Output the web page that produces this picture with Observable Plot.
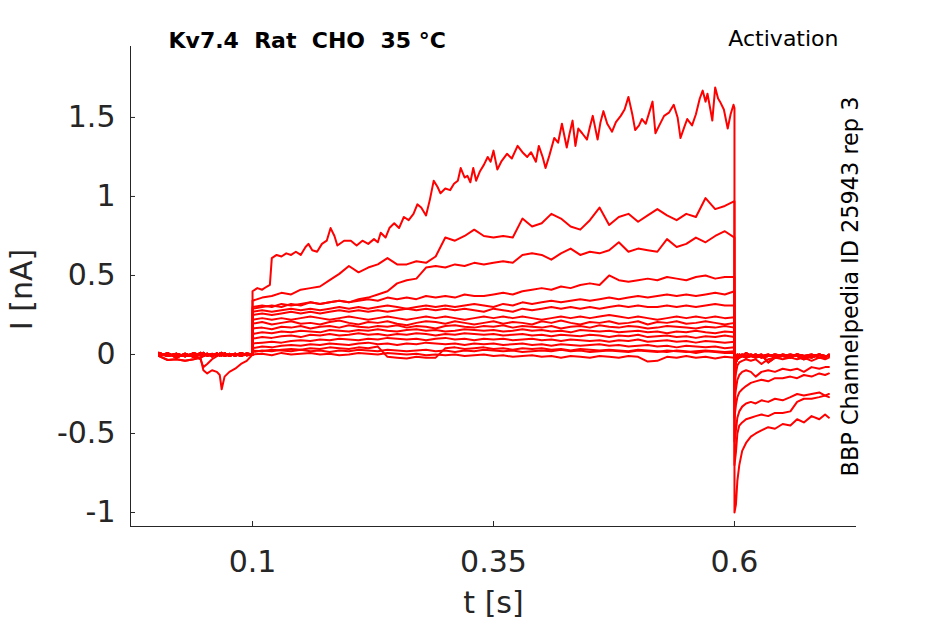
<!DOCTYPE html>
<html><head><meta charset="utf-8">
<script src="https://cdn.jsdelivr.net/npm/d3@7"></script>
<script src="https://cdn.jsdelivr.net/npm/@observablehq/plot@0.6"></script>
<style>body{margin:0;background:#fff}</style>
</head><body><div id="chart"></div>
<script>
const xTicks = [0.1, 0.35, 0.6];
const xTickLabels = ["0.1", "0.35", "0.6"];
const yTicks = [-1, -0.5, 0, 0.5, 1, 1.5];
const yTickLabels = ["-1", "-0.5", "0", "0.5", "1", "1.5"];
const xDomain = [-0.0266, 0.7266];
const yDomain = [-1.0886, 1.949];

// time grids (s)
const preT = [0.003,0.012,0.021,0.030,0.039,0.046,0.049,0.053,0.058,0.063,0.066,0.068,0.071,0.076,0.082,0.088,0.094,0.1];
const stepT = [0.10,0.11,0.12,0.13,0.14,0.15,0.16,0.17,0.18,0.19,
  0.20,0.21,0.22,0.23,0.24,0.25,0.26,0.27,0.28,0.29,
  0.30,0.31,0.32,0.33,0.34,0.35,0.36,0.37,0.38,0.39,
  0.40,0.41,0.42,0.43,0.44,0.45,0.46,0.47,0.48,0.49,
  0.50,0.51,0.52,0.53,0.54,0.55,0.56,0.57,0.58,0.59,0.60];
const tailT = [0.6,0.6015,0.603,0.605,0.608,0.612,0.617,0.622,0.628,0.635,0.642,0.65,0.658,0.665,0.672,0.68,0.688,0.694,0.698];

// pre-step baselines (nA)
const preA = [0.01,-0.01,0.005,-0.012,0.008,-0.005,0.01,-0.008,0.004,-0.01,0.006,-0.004,0.008,-0.01,0.005,-0.008,0.006,0.0];
const preB = [-0.01,0.008,-0.02,0.005,-0.015,0.01,-0.01,0.005,-0.012,0.008,-0.006,0.01,-0.01,0.004,-0.008,0.01,-0.005,0.0];
const preC = [-0.01,-0.035,-0.03,-0.04,-0.03,-0.02,-0.01,0.0,-0.01,0.005,-0.008,0.0,0.005,-0.005,0.0,0.004,-0.003,0.0];
const preDip = [0.0,-0.01,0.005,-0.008,-0.01,-0.02,-0.10,-0.12,-0.10,-0.11,-0.13,-0.22,-0.14,-0.11,-0.09,-0.06,-0.04,0.0];
const preDip2 = [0.0,0.005,-0.01,0.0,-0.01,-0.03,-0.08,-0.06,-0.03,-0.01,0.0,-0.01,0.005,-0.005,0.0,-0.01,0.0,0.0];

// largest trace, own time base
const mainT = [0.100,0.105,0.110,0.115,0.118,0.120,0.125,0.130,0.135,0.140,
  0.145,0.150,0.155,0.158,0.162,0.167,0.172,0.177,0.181,0.185,
  0.188,0.195,0.202,0.208,0.214,0.220,0.226,0.230,0.233,0.238,
  0.242,0.247,0.252,0.257,0.262,0.267,0.271,0.275,0.280,0.284,
  0.288,0.292,0.295,0.300,0.305,0.309,0.313,0.316,0.320,0.323,
  0.326,0.329,0.332,0.336,0.340,0.344,0.347,0.350,0.354,0.358,
  0.364,0.369,0.375,0.380,0.385,0.389,0.394,0.397,0.401,0.404,
  0.408,0.413,0.417,0.421,0.426,0.429,0.432,0.435,0.438,0.442,
  0.447,0.450,0.453,0.458,0.461,0.464,0.468,0.473,0.477,0.482,
  0.486,0.490,0.494,0.497,0.501,0.504,0.508,0.512,0.515,0.518,
  0.522,0.527,0.532,0.537,0.541,0.544,0.548,0.551,0.556,0.560,
  0.564,0.567,0.570,0.572,0.575,0.577,0.580,0.583,0.585,0.589,
  0.593,0.596,0.599,0.600];
const mainI = [0.40,0.42,0.41,0.43,0.44,0.61,0.63,0.62,0.64,0.63,
  0.65,0.63,0.68,0.70,0.66,0.65,0.70,0.72,0.80,0.75,
  0.69,0.72,0.72,0.69,0.72,0.70,0.73,0.71,0.77,0.74,
  0.80,0.83,0.80,0.87,0.85,0.89,0.95,0.93,0.88,0.98,
  1.10,1.06,1.02,1.05,1.04,1.08,1.10,1.18,1.12,1.13,
  1.09,1.18,1.10,1.16,1.20,1.25,1.22,1.29,1.17,1.22,
  1.27,1.24,1.32,1.28,1.25,1.28,1.22,1.32,1.25,1.18,
  1.26,1.37,1.34,1.46,1.31,1.40,1.48,1.32,1.43,1.40,
  1.36,1.44,1.51,1.36,1.47,1.54,1.46,1.41,1.47,1.51,
  1.55,1.63,1.52,1.42,1.45,1.49,1.46,1.54,1.60,1.40,
  1.45,1.51,1.53,1.58,1.50,1.37,1.44,1.49,1.45,1.52,
  1.62,1.67,1.60,1.65,1.55,1.48,1.69,1.62,1.60,1.55,
  1.43,1.52,1.58,1.56];

// step currents on stepT (nA)
const i2 = [0.34,0.36,0.37,0.39,0.38,0.41,0.42,0.43,0.47,0.51,
  0.56,0.52,0.55,0.57,0.61,0.57,0.57,0.59,0.58,0.62,
  0.74,0.72,0.75,0.79,0.75,0.74,0.75,0.74,0.86,0.81,
  0.83,0.89,0.86,0.81,0.79,0.85,0.93,0.82,0.87,0.89,
  0.84,0.88,0.92,0.88,0.85,0.89,0.87,0.99,0.92,0.94,0.97];
const i3 = [0.30,0.31,0.30,0.32,0.31,0.32,0.33,0.32,0.33,0.34,
  0.33,0.35,0.36,0.38,0.40,0.45,0.47,0.48,0.55,0.56,
  0.55,0.57,0.56,0.58,0.57,0.58,0.59,0.58,0.63,0.64,
  0.63,0.60,0.64,0.67,0.63,0.65,0.64,0.66,0.71,0.65,
  0.67,0.66,0.65,0.73,0.68,0.70,0.74,0.71,0.75,0.78,0.74];
const i4 = [0.29,0.30,0.31,0.30,0.32,0.31,0.33,0.32,0.33,0.34,
  0.33,0.34,0.35,0.34,0.36,0.35,0.36,0.35,0.37,0.36,
  0.37,0.36,0.38,0.37,0.37,0.38,0.39,0.38,0.40,0.41,
  0.42,0.41,0.43,0.42,0.44,0.45,0.44,0.50,0.47,0.46,
  0.47,0.48,0.47,0.49,0.48,0.47,0.49,0.50,0.48,0.49,0.49];
const i5 = [0.27,0.28,0.27,0.28,0.29,0.28,0.29,0.28,0.29,0.30,
  0.29,0.30,0.29,0.30,0.31,0.30,0.29,0.30,0.31,0.30,
  0.31,0.30,0.31,0.32,0.31,0.30,0.32,0.31,0.33,0.32,
  0.33,0.34,0.33,0.34,0.35,0.34,0.35,0.36,0.35,0.36,
  0.37,0.36,0.37,0.38,0.37,0.38,0.37,0.38,0.39,0.38,0.40];
const i6 = [0.25,0.26,0.25,0.26,0.27,0.26,0.27,0.26,0.27,0.28,
  0.27,0.28,0.27,0.28,0.27,0.28,0.29,0.28,0.29,0.28,
  0.29,0.28,0.29,0.28,0.27,0.29,0.28,0.27,0.29,0.28,
  0.29,0.30,0.29,0.30,0.29,0.30,0.29,0.30,0.31,0.30,
  0.31,0.30,0.30,0.31,0.30,0.31,0.30,0.31,0.32,0.31,0.31];
const i7 = [0.22,0.23,0.22,0.23,0.22,0.23,0.24,0.23,0.22,0.23,
  0.24,0.23,0.22,0.23,0.24,0.23,0.22,0.23,0.24,0.23,
  0.24,0.23,0.22,0.23,0.24,0.23,0.24,0.23,0.24,0.23,
  0.22,0.23,0.24,0.23,0.24,0.23,0.24,0.25,0.24,0.23,
  0.24,0.23,0.22,0.23,0.24,0.23,0.24,0.23,0.24,0.23,0.235];
const i8 = [0.195,0.205,0.19,0.20,0.21,0.195,0.20,0.19,0.205,0.215,
  0.20,0.19,0.205,0.20,0.21,0.195,0.185,0.20,0.21,0.205,
  0.195,0.21,0.20,0.19,0.20,0.21,0.195,0.205,0.20,0.19,
  0.21,0.20,0.215,0.20,0.19,0.205,0.20,0.21,0.195,0.20,
  0.21,0.19,0.205,0.20,0.21,0.195,0.20,0.21,0.20,0.19,0.20];
const i9 = [0.165,0.17,0.16,0.175,0.17,0.18,0.165,0.175,0.18,0.17,
  0.185,0.175,0.17,0.18,0.175,0.185,0.17,0.18,0.175,0.165,
  0.18,0.185,0.175,0.17,0.18,0.175,0.185,0.17,0.18,0.175,
  0.17,0.18,0.165,0.175,0.18,0.17,0.185,0.175,0.17,0.18,
  0.175,0.165,0.17,0.18,0.175,0.17,0.165,0.175,0.17,0.18,0.17];
const i10 = [0.13,0.14,0.135,0.145,0.14,0.15,0.145,0.14,0.155,0.15,
  0.145,0.155,0.15,0.16,0.15,0.145,0.155,0.16,0.15,0.155,
  0.145,0.15,0.16,0.155,0.15,0.155,0.145,0.15,0.16,0.15,
  0.155,0.145,0.15,0.14,0.155,0.15,0.145,0.15,0.14,0.145,
  0.15,0.14,0.145,0.135,0.145,0.14,0.15,0.14,0.135,0.145,0.14];
const i11 = [0.10,0.11,0.105,0.115,0.12,0.11,0.125,0.12,0.13,0.12,
  0.125,0.135,0.125,0.13,0.12,0.13,0.125,0.135,0.13,0.12,
  0.13,0.125,0.135,0.13,0.125,0.13,0.12,0.125,0.13,0.12,
  0.125,0.115,0.125,0.12,0.115,0.125,0.12,0.11,0.12,0.115,
  0.125,0.11,0.115,0.12,0.11,0.115,0.105,0.115,0.11,0.12,0.11];
const i12 = [0.07,0.075,0.08,0.075,0.085,0.09,0.085,0.095,0.09,0.10,
  0.095,0.09,0.10,0.095,0.105,0.10,0.095,0.10,0.09,0.10,
  0.105,0.095,0.10,0.09,0.10,0.095,0.10,0.09,0.095,0.10,
  0.09,0.095,0.085,0.095,0.09,0.085,0.09,0.08,0.09,0.085,
  0.095,0.08,0.085,0.09,0.08,0.085,0.075,0.085,0.08,0.075,0.08];
const i13 = [0.04,0.05,0.045,0.055,0.06,0.055,0.065,0.06,0.07,0.065,
  0.06,0.07,0.075,0.065,0.07,0.06,0.07,0.065,0.075,0.07,
  0.065,0.07,0.06,0.07,0.065,0.07,0.06,0.065,0.07,0.06,
  0.065,0.055,0.065,0.06,0.055,0.06,0.065,0.055,0.06,0.05,
  0.055,0.06,0.05,0.055,0.045,0.055,0.05,0.045,0.05,0.04,0.045];
const i14 = [0.015,0.025,0.02,0.03,0.035,0.03,0.04,0.035,0.045,0.04,
  0.035,0.045,0.04,0.05,-0.015,-0.02,-0.025,-0.015,-0.02,-0.02,
  0.04,0.045,0.035,0.04,0.045,0.035,0.04,0.03,0.04,0.035,
  0.04,0.03,0.035,0.025,0.035,0.03,0.025,0.03,0.025,0.02,
  0.03,0.025,0.02,0.015,0.025,0.02,0.01,0.02,0.015,0.01,0.01];
const i15 = [0.0,0.005,-0.005,0.01,0.0,0.005,0.01,0.0,0.005,-0.005,
  0.0,0.01,0.005,0.0,0.01,0.005,0.0,0.005,-0.005,0.0,
  -0.005,0.0,-0.01,-0.005,0.0,-0.01,-0.005,-0.015,-0.01,-0.005,
  -0.015,-0.01,-0.02,-0.01,-0.015,-0.02,-0.01,-0.015,-0.02,-0.01,
  -0.015,-0.045,-0.04,-0.015,-0.02,-0.01,-0.02,-0.015,-0.025,-0.015,-0.02];
const i16 = [0.025,0.02,0.03,0.025,0.02,0.03,0.02,0.025,0.015,0.025,
  0.02,0.03,0.025,0.02,0.03,0.025,0.02,0.025,0.03,0.02,
  0.025,0.015,0.025,0.02,0.03,0.025,0.02,0.025,0.015,0.02,
  0.025,0.02,0.03,0.02,0.025,0.015,0.02,0.025,0.02,0.015,
  0.025,0.02,0.015,0.025,0.02,0.015,0.02,0.025,0.02,0.015,0.02];

// tail currents on tailT (nA)
const tailMain = [-1.0,-0.95,-0.80,-0.70,-0.61,-0.56,-0.52,-0.50,-0.48,-0.46,-0.47,-0.44,-0.45,-0.41,-0.43,-0.39,-0.41,-0.38,-0.40];
const tail2 = [-0.70,-0.62,-0.50,-0.45,-0.43,-0.41,-0.40,-0.39,-0.38,-0.39,-0.37,-0.37,-0.36,-0.30,-0.28,-0.28,-0.27,-0.26,-0.27];
const tail3 = [-0.55,-0.48,-0.40,-0.36,-0.33,-0.31,-0.30,-0.31,-0.29,-0.30,-0.28,-0.29,-0.27,-0.25,-0.26,-0.25,-0.24,-0.26,-0.25];
const tail4 = [-0.40,-0.32,-0.27,-0.24,-0.22,-0.20,-0.18,-0.17,-0.16,-0.17,-0.15,-0.15,-0.14,-0.15,-0.13,-0.14,-0.12,-0.13,-0.12];
const tail5 = [-0.30,-0.22,-0.16,-0.13,-0.11,-0.10,-0.11,-0.14,-0.11,-0.10,-0.11,-0.09,-0.10,-0.09,-0.11,-0.08,-0.09,-0.08,-0.08];
const tail6 = [-0.20,-0.12,-0.07,-0.05,-0.04,-0.03,-0.04,-0.03,-0.06,-0.03,-0.02,-0.03,-0.02,-0.03,-0.02,-0.04,-0.02,-0.03,-0.02];
const tailZA = [-0.10,-0.05,-0.03,-0.02,-0.01,-0.02,-0.01,0.0,-0.02,-0.01,0.0,-0.01,-0.02,0.0,-0.01,-0.02,0.0,-0.01,-0.01];
const tailZB = [-0.06,-0.03,-0.01,0.0,-0.01,0.01,-0.01,-0.02,-0.01,0.0,-0.02,-0.01,0.0,-0.01,-0.03,-0.01,0.0,-0.02,0.0];
const tailZC = [-0.03,-0.02,0.0,-0.01,0.0,-0.01,0.0,-0.01,0.0,-0.05,-0.02,0.0,-0.01,0.0,-0.01,0.0,-0.02,-0.01,-0.01];

// sweep assembly: [pre baseline, step time base, step values, tail]
const sweeps = [
  [preA, mainT, mainI, tailMain],
  [preB, stepT, i2, tail2],
  [preDip, stepT, i3, tail3],
  [preA, stepT, i4, tail4],
  [preC, stepT, i5, tail5],
  [preB, stepT, i6, tail6],
  [preDip2, stepT, i7, tailZA],
  [preA, stepT, i8, tailZB],
  [preB, stepT, i9, tailZC],
  [preA, stepT, i10, tailZA],
  [preC, stepT, i11, tailZB],
  [preB, stepT, i12, tailZC],
  [preA, stepT, i13, tailZA],
  [preB, stepT, i14, tailZB],
  [preA, stepT, i15, tailZC],
  [preB, stepT, i16, tailZA]
];

const rows = [];
sweeps.forEach(([pre, st, sv, tail], k) => {
  pre.forEach((v, j) => rows.push({sweep: k, t: preT[j], i: v}));
  sv.forEach((v, j) => rows.push({sweep: k, t: st[j], i: v}));
  tail.forEach((v, j) => rows.push({sweep: k, t: tailT[j], i: v}));
});

const W = 945, H = 624, mL = 130, mR = 89, mT = 46, mB = 98;
const axisColor = "#262626";
const chart = Plot.plot({
  width: W, height: H,
  marginLeft: mL, marginRight: mR, marginTop: mT, marginBottom: mB,
  x: {domain: xDomain},
  y: {domain: yDomain},
  style: {fontFamily: "DejaVu Sans", color: axisColor, background: "#fff", fontSize: "30px"},
  marks: [
    Plot.axisY({ticks: yTicks, tickFormat: d => yTickLabels[yTicks.indexOf(d)], tickSize: 0, tickPadding: 15, fontSize: 30, label: null}),
    Plot.axisX({ticks: xTicks, tickFormat: d => xTickLabels[xTicks.indexOf(d)], tickSize: 0, tickPadding: 24, fontSize: 30, label: null}),
    Plot.tickY(yTicks, {y: d => d, stroke: axisColor, insetRight: (W - mL - mR) - 5}),
    Plot.tickX(xTicks, {x: d => d, stroke: axisColor, insetTop: (H - mT - mB) - 5}),
    Plot.ruleX([xDomain[0]], {stroke: axisColor}),
    Plot.ruleY([yDomain[0]], {stroke: axisColor}),
    Plot.line(rows, {x: "t", y: "i", z: "sweep", stroke: "#ff0000", strokeWidth: 2, curve: "linear"}),
    Plot.text(["Kv7.4\u00a0\u00a0Rat\u00a0\u00a0CHO\u00a0\u00a035 °C"], {frameAnchor: "top-left", dx: 38, dy: -6, textAnchor: "start", lineAnchor: "middle", fontSize: 22, fontWeight: "bold", fill: "#000"}),
    Plot.text(["Activation"], {frameAnchor: "top-right", dx: -18, dy: -8, textAnchor: "end", lineAnchor: "middle", fontSize: 22, fill: "#000"}),
    Plot.text(["BBP Channelpedia ID 25943 rep 3"], {frameAnchor: "right", dx: -6, rotate: -90, textAnchor: "middle", lineAnchor: "middle", fontSize: 22.4, fill: "#000"}),
    Plot.text(["I [nA]"], {frameAnchor: "left", dx: -108, dy: 3, rotate: -90, textAnchor: "middle", lineAnchor: "middle", fontSize: 30, fill: axisColor}),
    Plot.text(["t [s]"], {frameAnchor: "bottom", dy: 77, textAnchor: "middle", lineAnchor: "middle", fontSize: 30, fill: axisColor})
  ]
});
document.getElementById("chart").appendChild(chart);
</script>
</body></html>
